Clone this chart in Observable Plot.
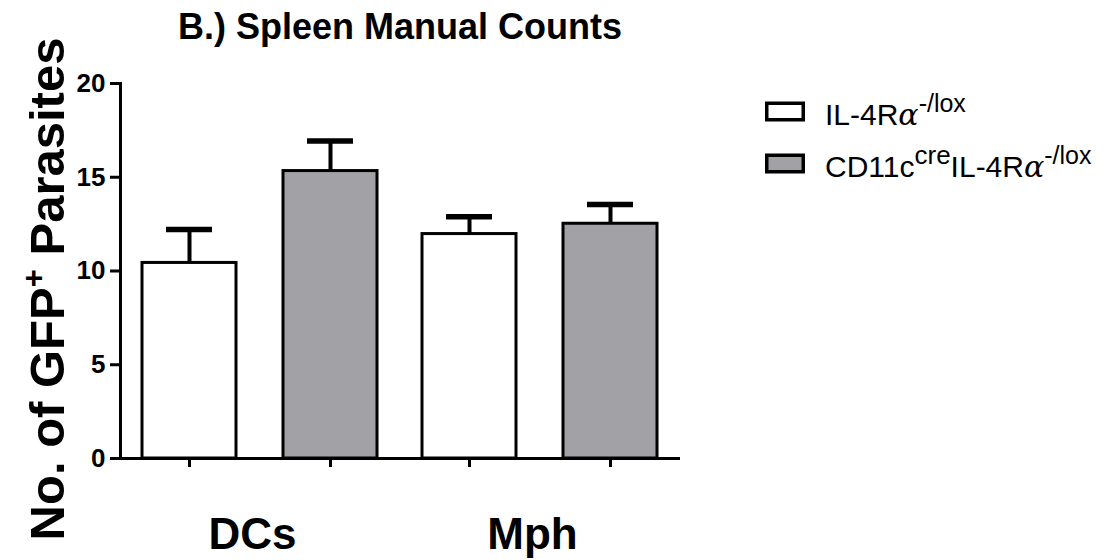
<!DOCTYPE html>
<html>
<head>
<meta charset="utf-8">
<script src="https://cdn.jsdelivr.net/npm/d3@7"></script>
<script src="https://cdn.jsdelivr.net/npm/@observablehq/plot@0.6"></script>
<style>
  body { margin: 0; background: #fff; }
  #chart svg { display: block; }
</style>
</head>
<body>
<div id="chart"></div>
<script>
// ---- data ----
const groups = ["DCs", "Mph"];
const seriesKeys = ["IL-4Ra-/lox", "CD11ccre IL-4Ra-/lox"];
const seriesColors = ["#ffffff", "#a2a1a5"];
const meansIL = [10.43, 11.97];      // IL-4Rα-/lox
const errIL = [1.78, 0.93];
const meansCre = [15.33, 12.52];     // CD11c cre IL-4Rα-/lox
const errCre = [1.60, 1.03];
const yTicks = [0, 5, 10, 15, 20];
const titleText = "B.) Spleen Manual Counts";

const rows = groups.flatMap((g, i) => [
  {group: g, series: seriesKeys[0], value: meansIL[i], err: errIL[i]},
  {group: g, series: seriesKeys[1], value: meansCre[i], err: errCre[i]}
]);

const FONT = "'Liberation Sans', Arial, Helvetica, sans-serif";

const chart = Plot.plot({
  width: 1104,
  height: 560,
  marginLeft: 120,
  marginRight: 424,
  marginTop: 83,
  marginBottom: 102,
  style: {fontFamily: FONT, background: "#fff", color: "#000", overflow: "visible"},
  fx: {domain: groups, paddingInner: 0, paddingOuter: 0, label: null},
  x: {domain: seriesKeys, paddingInner: 0.333, paddingOuter: 0.157, label: null},
  y: {domain: [0, 20], label: null},
  color: {domain: seriesKeys, range: seriesColors},
  marks: [
    Plot.barY(rows, {fx: "group", x: "series", y: "value", fill: "series", stroke: "#000", strokeWidth: 3}),
    Plot.ruleX(rows, {fx: "group", x: "series", y1: "value", y2: d => d.value + d.err, stroke: "#000", strokeWidth: 4}),
    Plot.tickY(rows, {fx: "group", x: "series", y: d => d.value + d.err, stroke: "#000", strokeWidth: 5.5, insetLeft: 24, insetRight: 24}),
    Plot.ruleY([0], {stroke: "#000", strokeWidth: 3}),
    Plot.frame({anchor: "left", facetAnchor: "left", stroke: "#000", strokeWidth: 3}),
    Plot.axisY({ticks: yTicks, tickSize: 10, tickPadding: 5, fontSize: 26, fontWeight: "bold", strokeWidth: 3, label: null}),
    Plot.axisX({tickSize: 9, tickFormat: () => null, strokeWidth: 3, label: null}),
    Plot.axisFx({anchor: "bottom", tickSize: 0, tickPadding: 59, fontSize: 44, fontWeight: "bold", dx: -8, label: null})
  ]
});

document.getElementById("chart").appendChild(chart);

// ---- title, y label, legend ----
const svg = d3.select(chart);

svg.append("text")
  .attr("x", 400).attr("y", 39)
  .attr("text-anchor", "middle")
  .style("font-family", FONT).style("font-weight", "bold").style("font-size", "36px")
  .attr("fill", "#000")
  .text(titleText);

const yl = svg.append("text")
  .attr("transform", "translate(64,289) rotate(-90)")
  .attr("text-anchor", "middle")
  .style("font-family", FONT).style("font-weight", "bold").style("font-size", "49px")
  .attr("fill", "#000");
yl.append("tspan").text("No. of GFP");
yl.append("tspan").attr("dy", -20).style("font-size", "31px").text("+");
yl.append("tspan").attr("dy", 20).text(" Parasites");

const legendLabels = [
  [{t: "IL-4R"}, {t: "α", greek: true}, {t: "-/lox", sup: true, size: 25}],
  [{t: "CD11c"}, {t: "cre", sup: true, size: 26}, {t: "IL-4R"}, {t: "α", greek: true}, {t: "-/lox", sup: true, size: 25}]
];
seriesKeys.forEach((k, i) => {
  const y0 = 103.25 + i * 52;
  svg.append("rect")
    .attr("x", 766.75).attr("y", y0).attr("width", 36.5).attr("height", 16.5)
    .attr("fill", seriesColors[i]).attr("stroke", "#000").attr("stroke-width", 3.5);
  const t = svg.append("text")
    .attr("x", 825).attr("y", y0 + 22)
    .attr("text-anchor", "start")
    .style("font-family", FONT).style("font-size", "30px").attr("fill", "#000");
  let raised = false;
  legendLabels[i].forEach(p => {
    const ts = t.append("tspan").text(p.t);
    if (p.greek) ts.style("font-family", "'DejaVu Serif', 'Liberation Serif', serif").style("font-style", "italic");
    if (p.sup) {
      ts.style("font-size", p.size + "px");
      if (!raised) { ts.attr("dy", -13); raised = true; }
    } else if (raised) { ts.attr("dy", 13); raised = false; }
  });
});
</script>
</body>
</html>
